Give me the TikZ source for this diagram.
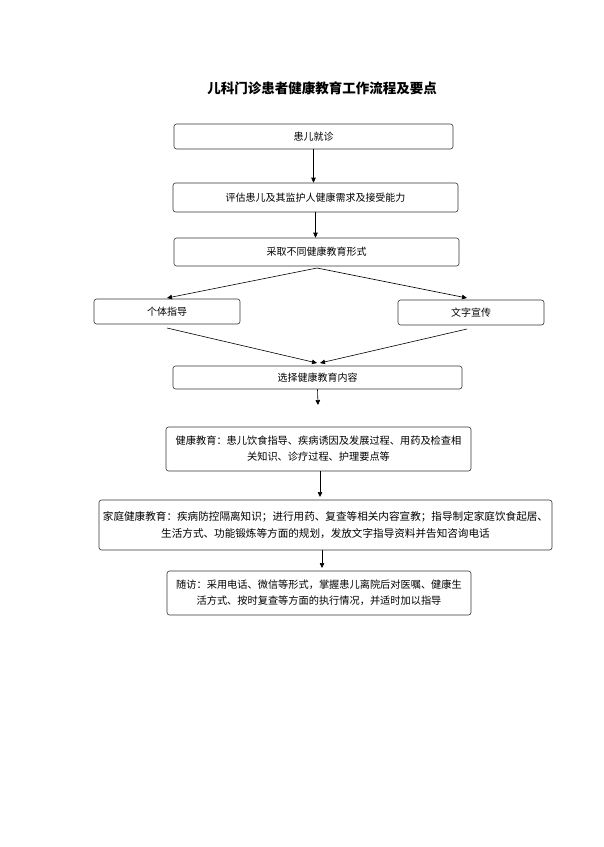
\documentclass[tikz,border=0pt]{standalone}
\usepackage{fontspec}
\newfontfamily\cjk{Noto Sans CJK SC}
\usetikzlibrary{arrows.meta}
\begin{document}
\begin{tikzpicture}[x=1pt,y=-1pt,
 box/.style={draw=black!80,rounded corners=2.5pt,line width=0.6pt,font=\cjk\fontsize{10}{16}\selectfont,align=center,inner sep=0pt},
 arr/.style={-{Triangle[length=5pt,width=4.5pt]},line width=0.6pt}]
\useasboundingbox (0,0) rectangle (604,847);
\node[font=\cjk\bfseries\fontsize{13.5}{15}\selectfont] (t) at (322,88) {儿科门诊患者健康教育工作流程及要点};
\node[box,minimum width=279pt,minimum height=25pt] (a) at (313.5,136.5) {患儿就诊};
\node[box,minimum width=285pt,minimum height=29pt] (b) at (315.5,197.5) {评估患儿及其监护人健康需求及接受能力};
\node[box,minimum width=285pt,minimum height=28pt] (c) at (316.5,252) {采取不同健康教育形式};
\node[box,minimum width=146pt,minimum height=25pt] (d) at (167,311.5) {个体指导};
\node[box,minimum width=146pt,minimum height=25pt] (e) at (471,312.5) {文字宣传};
\node[box,minimum width=289pt,minimum height=23pt] (f) at (317.5,377.5) {选择健康教育内容};
\node[box,minimum width=305pt,minimum height=44pt,font=\cjk\fontsize{10.2}{16}\selectfont] (g) at (318.5,449) {健康教育：患儿饮食指导、疾病诱因及发展过程、用药及检查相\\关知识、诊疗过程、护理要点等};
\node[box,minimum width=453pt,minimum height=50pt,font=\cjk\fontsize{10.6}{17}\selectfont] (h) at (325.5,525) {家庭健康教育：疾病防控隔离知识；进行用药、复查等相关内容宣教；指导制定家庭饮食起居、\\生活方式、功能锻炼等方面的规划，发放文字指导资料并告知咨询电话};
\node[box,minimum width=304pt,minimum height=44pt,font=\cjk\fontsize{10.2}{16}\selectfont] (i) at (319,593) {随访：采用电话、微信等形式，掌握患儿离院后对医嘱、健康生\\活方式、按时复查等方面的执行情况，并适时加以指导};
\coordinate (cb) at (317,268);
\coordinate (dt) at (167,298);
\coordinate (et) at (467,298);
\coordinate (db) at (167,328);
\coordinate (eb) at (467,329);
\coordinate (fl) at (317,363);
\coordinate (fr) at (320,363);
\coordinate (ge) at (318,405);
\draw[arr] (a.south) -- (a.south |- b.north);
\draw[arr] (b.south) -- (b.south |- c.north);
\draw[arr] (cb) -- (dt);
\draw[arr] (cb) -- (et);
\draw[arr] (db) -- (fl);
\draw[arr] (eb) -- (fr);
\draw[arr] (f.south) -- (ge);
\draw[arr] (320,471) -- (320,497);
\draw[arr] (322,550) -- (322,568);
\end{tikzpicture}
\end{document}
